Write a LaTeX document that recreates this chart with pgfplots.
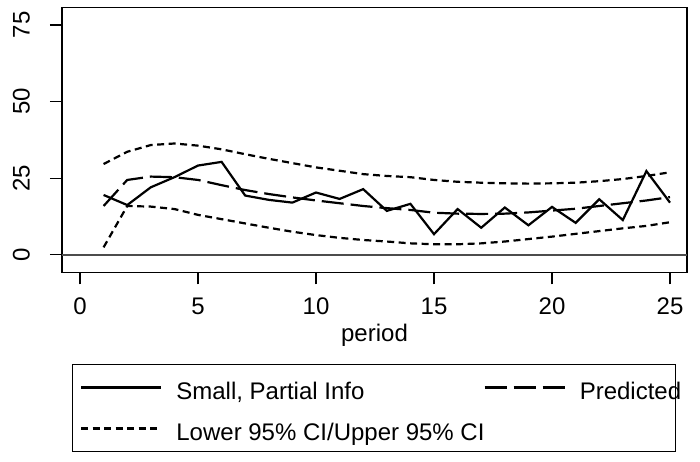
\documentclass[border=0pt]{standalone}
\usepackage{pgfplots}
\pgfplotsset{compat=1.18}
\usepackage{fontspec}
\setmainfont{Liberation Sans}
\begin{document}
\begin{tikzpicture}[x=1pt,y=1pt]
\path[use as bounding box] (0,0) rectangle (700,461);
\begin{axis}[
  at={(62pt,188.7pt)}, anchor=south west,
  scale only axis, width=625pt, height=264.8pt,
  xmin=-0.763, xmax=25.72, ymin=-5.75, ymax=80.7,
  xtick={0,5,10,15,20,25}, ytick={0,25,50,75},
  tick pos=left, tick align=outside, major tick length=12pt,
  every tick/.style={black, line width=1.2pt},
  axis line style={line width=1.2pt},
  /pgf/number format/assume math mode=true,
  font=\fontsize{24}{28}\selectfont,
  tick label style={font=\fontsize{24}{28}\selectfont, inner sep=0pt},
  xticklabel style={anchor=north, yshift=-13pt},
  yticklabel style={rotate=90, anchor=south},
  yticklabel shift=20pt,
  xlabel={period},
  xlabel style={at={(axis description cs:0.5,0)}, anchor=base, yshift=-68.7pt, inner sep=0pt},
  legend style={at={(axis description cs:0.016,-0.3463)}, anchor=north west,
    draw=black, line width=1pt, inner xsep=7.5pt, inner ysep=11pt,
    row sep=17pt, column sep=0pt,
    nodes={inner sep=0pt, text height=24pt, text depth=0pt},
    font=\fontsize{24}{28}\selectfont},
  legend columns=2, legend cell align=left,
  legend image code/.code={\path[draw=none,fill=none] (0pt,-12pt) rectangle (95.3pt,12pt); \draw[#1] (0pt,0pt) -- (80pt,0pt);},
]
\draw[black!70, line width=1.8pt] (axis cs:-0.763,0) -- (axis cs:25.72,0);
\addplot[black, line width=2.2pt] coordinates {
(1,19.5) (2,16.2) (3,22.0) (4,25.3) (5,29.1) (6,30.3) (7,19.3) (8,17.9) (9,17.0) (10,20.3)
(11,18.2) (12,21.4) (13,14.3) (14,16.6) (15,6.7) (16,14.9) (17,8.8) (18,15.4) (19,9.6) (20,15.6)
(21,10.4) (22,18.1) (23,11.3) (24,27.3) (25,17.0)};
\addlegendentry{\makebox[307pt][l]{Small, Partial Info}}
\addplot[black, line width=2.2pt, dash pattern=on 22pt off 7pt] coordinates {
(1,15.9) (2,24.4) (3,25.5) (4,25.3) (5,24.4) (6,22.7) (7,21.1) (8,19.8) (9,18.7) (10,17.7)
(11,16.8) (12,15.9) (13,15.2) (14,14.6) (15,13.7) (16,13.4) (17,13.3) (18,13.4) (19,13.8) (20,14.4)
(21,15.0) (22,15.9) (23,16.8) (24,17.7) (25,18.8)};
\addlegendentry{\makebox[88.3pt][l]{Predicted}}
\addplot[black, line width=2.2pt, dash pattern=on 7pt off 4.5pt] coordinates {
(1,2.4) (2,15.9) (3,15.7) (4,14.9) (5,13.0) (6,11.6) (7,10.2) (8,8.8) (9,7.5) (10,6.4)
(11,5.5) (12,4.8) (13,4.3) (14,3.7) (15,3.4) (16,3.4) (17,3.7) (18,4.3) (19,5.1) (20,5.9)
(21,6.8) (22,7.7) (23,8.6) (24,9.4) (25,10.6)};
\addlegendentry{\makebox[307pt][l]{Lower 95\% CI/Upper 95\% CI}}
\addplot[forget plot, black, line width=2.2pt, dash pattern=on 7pt off 4.5pt] coordinates {
(1,29.6) (2,33.6) (3,35.8) (4,36.3) (5,35.6) (6,34.4) (7,32.8) (8,31.3) (9,29.9) (10,28.5)
(11,27.4) (12,26.3) (13,25.7) (14,25.3) (15,24.4) (16,23.8) (17,23.5) (18,23.3) (19,23.2) (20,23.3)
(21,23.5) (22,24.0) (23,24.7) (24,25.7) (25,26.9)};
\end{axis}
\end{tikzpicture}
\end{document}
